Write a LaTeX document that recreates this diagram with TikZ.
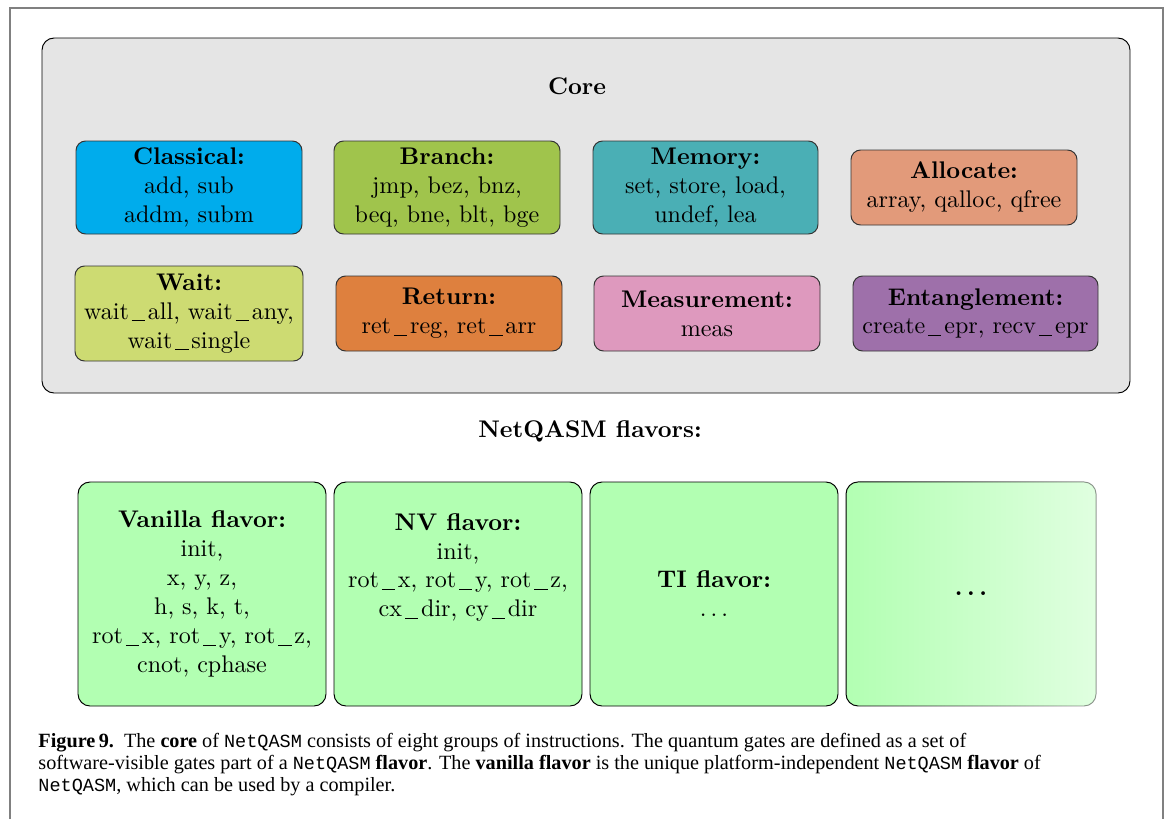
\documentclass[tikz,border=0pt]{standalone}
\usepackage{bm}
\usepackage{fontspec}
\newfontfamily\capfont{Liberation Serif}
\newfontfamily\capmono{Liberation Mono}
\usetikzlibrary{fadings}
\definecolor{classicalcol}{RGB}{0,172,236}
\definecolor{branchcol}{RGB}{160,196,76}
\definecolor{memorycol}{RGB}{74,175,181}
\definecolor{allocatecol}{RGB}{226,154,122}
\definecolor{waitcol}{RGB}{205,219,114}
\definecolor{returncol}{RGB}{222,128,62}
\definecolor{measurecol}{RGB}{222,153,190}
\definecolor{entanglecol}{RGB}{158,112,170}
\tikzfading[name=fadeflavor, left color=transparent!0, right color=transparent!60]
\newcommand{\capcode}[1]{{\capmono\fontsize{7.7}{9.2}\selectfont #1}}
\newcommand{\figus}{\kern.12em\rule[-0.2ex]{0.55em}{0.4pt}\kern.12em}

\begin{document}
\begin{tikzpicture}[x=0.0146cm, y=-0.0146cm,
        corebox/.style={draw=black, fill=black!10, rounded corners=5pt},
        groupbox/.style={draw=black!80, rounded corners=4pt, align=center, inner sep=2pt},
        flavorbox/.style={draw=black, fill=green!30, rounded corners=5pt, align=center,
            minimum width=248*\figninepx, minimum height=224*\figninepx}]
        \newcommand{\figninepx}{0.0146cm}
        \newcommand{\figninerowa}{187.5}
        \newcommand{\figninerowb}{313.5}
        \newcommand{\figninerowc}{594}
        \useasboundingbox (0,0) rectangle (1168,819);
        % frame of the figure
        \draw[black!50, line width=1pt] (10,819) -- (10,8) -- (1163,8) -- (1163,819);
        % core
        \node (core) [corebox, minimum width=1088*\figninepx, minimum height=355*\figninepx] at (586,215.5) {};
        \node (coretitle) at (577,86) {\textbf{Core}};
        \node (classical) [groupbox, fill=classicalcol, minimum width=226*\figninepx, minimum height=93*\figninepx] at (189,\figninerowa) {\textbf{Classical:}\\ add, sub\\ addm, subm};
        \node (branch) [groupbox, fill=branchcol, minimum width=226*\figninepx, minimum height=93*\figninepx] at (447,\figninerowa) {\textbf{Branch:}\\ jmp, bez, bnz,\\ beq, bne, blt, bge};
        \node (memory) [groupbox, fill=memorycol, minimum width=225*\figninepx, minimum height=93*\figninepx] at (705.5,\figninerowa) {\textbf{Memory:}\\ set, store, load,\\ undef, lea};
        \node (allocate) [groupbox, fill=allocatecol, minimum width=226*\figninepx, minimum height=75*\figninepx] at (964,\figninerowa) {\textbf{Allocate:}\\ array, qalloc, qfree};
        \node (wait) [groupbox, fill=waitcol, minimum width=228*\figninepx, minimum height=95*\figninepx] at (189,\figninerowb) {\textbf{Wait:}\\ wait\figus all, wait\figus any,\\ wait\figus single};
        \node (return) [groupbox, fill=returncol, minimum width=226*\figninepx, minimum height=75*\figninepx] at (449,\figninerowb) {\textbf{Return:}\\ ret\figus reg, ret\figus arr};
        \node (measure) [groupbox, fill=measurecol, minimum width=226*\figninepx, minimum height=75*\figninepx] at (707,\figninerowb) {\textbf{Measurement:}\\ meas};
        \node (entangle) [groupbox, fill=entanglecol, minimum width=245*\figninepx, minimum height=75*\figninepx] at (975.5,\figninerowb) {\textbf{Entanglement:}\\ create\figus epr, recv\figus epr};
        % flavors
        \node (flavortitle) at (590,431) {\textbf{NetQASM flavors:}};
        \node (vanilla) [flavorbox] at (202,\figninerowc) {\textbf{Vanilla flavor:}\\ init,\\ x, y, z,\\ h, s, k, t,\\ rot\figus x, rot\figus y, rot\figus z,\\ cnot, cphase};
        \node (nv) [flavorbox] at (458,\figninerowc) {\textbf{NV flavor:}\\ init,\\ rot\figus x, rot\figus y, rot\figus z,\\ cx\figus dir, cy\figus dir\\[12pt]};
        \node (ti) [flavorbox] at (714,\figninerowc) {\textbf{TI flavor:}\\ $\ldots$};
        \node (more) [flavorbox, minimum width=250*\figninepx, path fading=fadeflavor] at (971,\figninerowc) {};
        \node (moredots) at (more) {$\bm{\ldots}$};
        % caption
        \node (caption) [anchor=north west, align=left, inner sep=0pt, font=\capfont\fontsize{8.4}{9.15}\selectfont] at (38,733)
            {\textbf{Figure\,9.}\enskip The \textbf{core} of \capcode{NetQASM} consists of eight groups of instructions. The quantum gates are defined as a set of\\
            software-visible gates part of a \capcode{NetQASM} \textbf{flavor}. The \textbf{vanilla flavor} is the unique platform-independent \capcode{NetQASM} \textbf{flavor} of\\
            \capcode{NetQASM}, which can be used by a compiler.};
\end{tikzpicture}
\end{document}
